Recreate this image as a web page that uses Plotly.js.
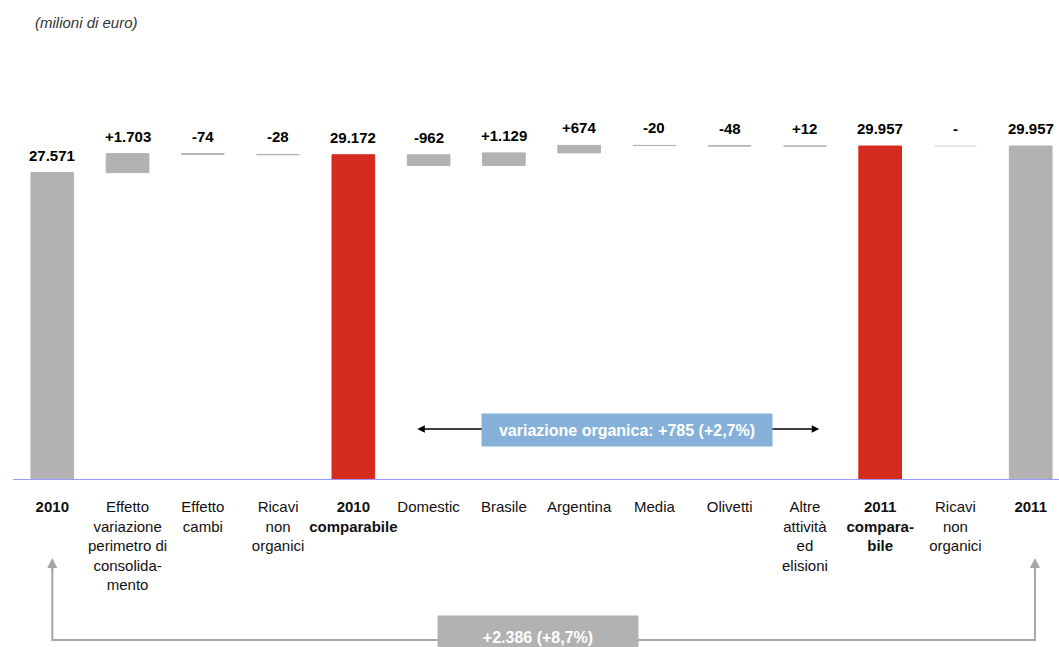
<!DOCTYPE html>
<html><head><meta charset="utf-8">
<script src="https://cdn.plot.ly/plotly-3.0.1.min.js"></script>
<style>html,body{margin:0;padding:0;background:#fff}#chart{width:1059px;height:647px}</style>
</head><body><div id="chart"></div>
<script>
// ---- data ----
const categories = [
  '<b>2010</b>',
  'Effetto<br>variazione<br>perimetro di<br>consolida-<br>mento',
  'Effetto<br>cambi',
  'Ricavi<br>non<br>organici',
  '<b>2010</b><br><b>comparabile</b>',
  'Domestic',
  'Brasile',
  'Argentina',
  'Media',
  'Olivetti',
  'Altre<br>attività<br>ed<br>elisioni',
  '<b>2011</b><br><b>compara-</b><br><b>bile</b>',
  'Ricavi<br>non<br>organici',
  '<b>2011</b>'
];
const values = [27571, 1703, -74, -28, 29172, -962, 1129, 674, -20, -48, 12, 29957, 0, 29957];
const measures = ['absolute','relative','relative','relative','total','relative','relative','relative','relative','relative','relative','total','relative','total'];
const valueLabels = ['27.571','+1.703','-74','-28','29.172','-962','+1.129','+674','-20','-48','+12','29.957','-','29.957'];
const barKinds = ['year','delta','delta','delta','comparable','delta','delta','delta','delta','delta','delta','comparable','delta','year'];
const organicLabel = 'variazione organica: +785 (+2,7%)';
const totalLabel = '+2.386 (+8,7%)';
const unitLabel = '(milioni di euro)';

// ---- styles ----
const GRAY = '#b2b2b2', RED = '#d52b1e', ZERO = '#e6e6e6';
const FONT = 'Liberation Sans, Arial, sans-serif';

// ---- waterfall geometry from data ----
let running = 0;
const bases = [], lengths = [], tops = [], colors = [];
values.forEach((v, i) => {
  let b, l;
  if (measures[i] === 'absolute') { b = 0; l = v; running = v; }
  else if (measures[i] === 'total') { b = 0; l = running; }
  else { b = Math.min(running, running + v); l = Math.abs(v); running += v; }
  bases.push(b); lengths.push(l); tops.push(b + l);
  colors.push(barKinds[i] === 'comparable' ? RED : (v === 0 ? ZERO : GRAY));
});
const idx = categories.map((_, i) => i);

const trace = {
  type: 'bar', x: idx, y: lengths, base: bases, width: 0.567,
  marker: { color: colors, line: { color: colors, width: 1 } },
  hoverinfo: 'skip'
};

const annotations = idx.map(i => ({
  x: i, y: tops[i], xref: 'x', yref: 'y', yanchor: 'bottom', yshift: 7,
  text: '<b>' + valueLabels[i] + '</b>', showarrow: false,
  font: { family: FONT, size: 15, color: '#000' }
}));

// zero-value step drawn as a thin line at the running total
const shapes = [];
idx.forEach(i => {
  if (values[i] === 0 && measures[i] === 'relative') {
    shapes.push({ type: 'line', xref: 'x', yref: 'y', x0: i - 0.27, x1: i + 0.27, y0: tops[i], y1: tops[i],
      line: { color: ZERO, width: 2 } });
  }
});
// baseline
shapes.push({ type: 'line', xref: 'paper', yref: 'y', x0: 0.0123, x1: 1, y0: 0, y1: 0,
  line: { color: '#9999ff', width: 2 } });
// bottom connector
shapes.push({ type: 'path', xref: 'paper', yref: 'paper',
  path: 'M 0.0494,-0.215 V -0.4211 H 0.9773 V -0.215',
  line: { color: '#a6a6a6', width: 2 } });

// organic double arrow
annotations.push({ xref: 'x', yref: 'y', x: 10.19, y: 4574, axref: 'x', ayref: 'y', ax: 4.83, ay: 4574,
  text: '', showarrow: true, arrowside: 'end+start', arrowhead: 2, arrowsize: 1, arrowwidth: 1.5, arrowcolor: '#000' });
annotations.push({ xref: 'x', yref: 'y', x: 7.636, y: 4529, text: '<b>' + organicLabel + '</b>', showarrow: false,
  font: { family: FONT, size: 16, color: '#fff' }, bgcolor: '#85b1d9', width: 288, height: 30, borderpad: 1 });
// bottom arrowheads
[0.0494, 0.9773].forEach(px => annotations.push({ xref: 'paper', yref: 'paper', x: px, y: -0.205,
  ax: 0, ay: 16, text: '', showarrow: true, arrowhead: 2, arrowsize: 1, arrowwidth: 2, arrowcolor: '#a6a6a6' }));
annotations.push({ xref: 'paper', yref: 'paper', x: 0.508, y: -0.3987, xanchor: 'center', yanchor: 'middle',
  text: '<b>' + totalLabel + '</b>', showarrow: false,
  font: { family: FONT, size: 16, color: '#fff' }, bgcolor: '#b2b2b2', width: 198, height: 29, borderpad: 1, valign: 'bottom' });
annotations.push({ xref: 'paper', yref: 'paper', x: 0.031, y: 1.205, xanchor: 'left', yanchor: 'middle',
  text: '<i>' + unitLabel + '</i>', showarrow: false, font: { family: FONT, size: 15, color: '#333' } });

const layout = {
  width: 1059, height: 647,
  margin: { l: 0, r: 0, t: 100, b: 167 },
  paper_bgcolor: '#fff', plot_bgcolor: '#fff',
  showlegend: false, hovermode: false,
  xaxis: { range: [-0.695, 13.376], tickvals: idx, ticktext: categories, ticks: '', showgrid: false,
    zeroline: false, showline: false, ticklabelstandoff: 16, tickangle: 0,
    tickfont: { family: FONT, size: 15, color: '#111' }, fixedrange: true },
  yaxis: { range: [0, 34083], visible: false, fixedrange: true },
  shapes: shapes, annotations: annotations
};
Plotly.newPlot('chart', [trace], layout, { displayModeBar: false, staticPlot: true });
</script></body></html>
